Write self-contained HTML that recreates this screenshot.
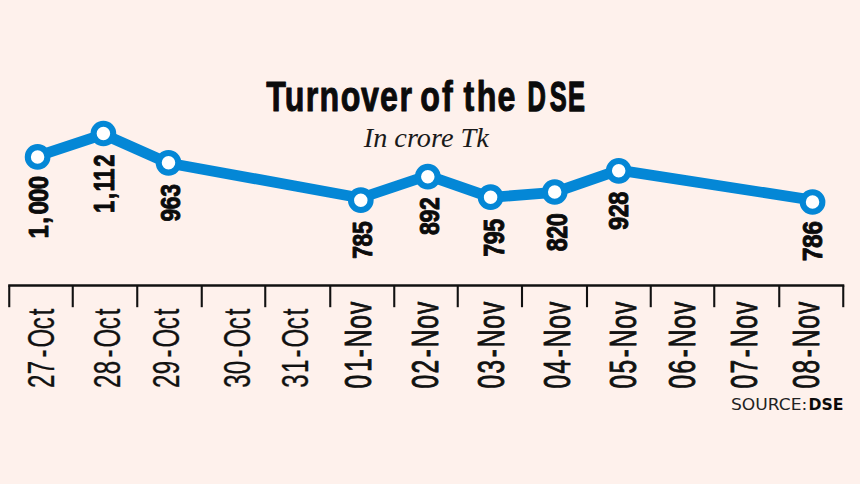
<!DOCTYPE html>
<html lang="en">
<head>
<meta charset="utf-8">
<title>Turnover of the DSE</title>
<style>
html,body{margin:0;padding:0;background:#fef1ec;}
body{width:860px;height:484px;overflow:hidden;}
svg{display:block;}
.sans{font-family:"Liberation Sans",sans-serif;}
.serif{font-family:"Liberation Serif",serif;}
.dv{font-family:"DejaVu Sans","Liberation Sans",sans-serif;}
</style>
</head>
<body>
<svg width="860" height="484" viewBox="0 0 860 484">
<rect x="0" y="0" width="860" height="484" fill="#fef1ec"/>
<g transform="scale(0.755,1)"><text class="sans" x="352.67 377.20 405.07 423.26 451.49 478.03 503.35 529.04 550.99 556.66 585.28 607.28 613.83 631.59 659.04" y="111.05" font-size="42.6" font-weight="bold" fill="#0b0b0b" stroke="#0b0b0b" stroke-width="0.9" vector-effect="non-scaling-stroke" stroke-linejoin="round">Turnover of the</text></g>
<g transform="scale(0.6,1)"><text class="sans" x="879.37 916.11 946.80" y="110.9" font-size="42.3" font-weight="bold" fill="#0b0b0b" stroke="#0b0b0b" stroke-width="1.2" vector-effect="non-scaling-stroke" stroke-linejoin="round">DSE</text></g>
<g transform="translate(363.8,146.6) scale(1.038,1)"><text class="serif" x="0" y="0" font-size="27.2" font-style="italic" fill="#1a1a1a">In crore Tk</text></g>
<polyline fill="none" stroke="#0487d6" stroke-width="10.8" stroke-linejoin="round" stroke-linecap="round" points="37.6,156.1 103.3,134.3 168,163.0 360.8,198.0 427.8,175.5 490.6,197.3 554.5,192.4 618.7,170.2 812.55,200.1"/>
<circle cx="37.6" cy="156.9" r="9.8" fill="#ffffff" stroke="#0487d6" stroke-width="6.1"/>
<circle cx="103.4" cy="133.5" r="9.8" fill="#ffffff" stroke="#0487d6" stroke-width="6.1"/>
<circle cx="168.5" cy="162.8" r="9.8" fill="#ffffff" stroke="#0487d6" stroke-width="6.1"/>
<circle cx="360.8" cy="200.2" r="9.8" fill="#ffffff" stroke="#0487d6" stroke-width="6.1"/>
<circle cx="427.8" cy="176.7" r="9.8" fill="#ffffff" stroke="#0487d6" stroke-width="6.1"/>
<circle cx="490.6" cy="197.2" r="9.8" fill="#ffffff" stroke="#0487d6" stroke-width="6.1"/>
<circle cx="554.7" cy="192.0" r="9.8" fill="#ffffff" stroke="#0487d6" stroke-width="6.1"/>
<circle cx="618.7" cy="170.8" r="9.8" fill="#ffffff" stroke="#0487d6" stroke-width="6.1"/>
<circle cx="812.55" cy="202.0" r="9.8" fill="#ffffff" stroke="#0487d6" stroke-width="6.1"/>
<g transform="translate(47.89,236.20) rotate(-90) scale(0.854,1)"><text class="sans" x="-2.71 14.57 25.44 40.19 55.07" y="0" font-size="28.18" font-weight="bold" stroke="#0b0b0b" stroke-width="0.85" vector-effect="non-scaling-stroke" stroke-linejoin="round" fill="#0b0b0b">1,000</text></g>
<g transform="translate(114.29,212.60) rotate(-90) scale(0.76,1)"><text class="sans" x="-0.60 17.84 27.69 42.03 60.24" y="0" font-size="28.74" font-weight="bold" stroke="#0b0b0b" stroke-width="0.85" vector-effect="non-scaling-stroke" stroke-linejoin="round" fill="#0b0b0b">1,112</text></g>
<g transform="translate(179.60,221.30) rotate(-90) scale(0.822,1)"><text class="sans" x="-0.20 14.72 29.88" y="0" font-size="27.75" font-weight="bold" stroke="#0b0b0b" stroke-width="0.85" vector-effect="non-scaling-stroke" stroke-linejoin="round" fill="#0b0b0b">963</text></g>
<g transform="translate(371.60,258.60) rotate(-90) scale(0.842,1)"><text class="sans" x="-0.22 14.48 29.18" y="0" font-size="27.33" font-weight="bold" stroke="#0b0b0b" stroke-width="0.85" vector-effect="non-scaling-stroke" stroke-linejoin="round" fill="#0b0b0b">785</text></g>
<g transform="translate(438.61,234.80) rotate(-90) scale(0.861,1)"><text class="sans" x="-0.26 14.27 28.79" y="0" font-size="26.91" font-weight="bold" stroke="#0b0b0b" stroke-width="0.85" vector-effect="non-scaling-stroke" stroke-linejoin="round" fill="#0b0b0b">892</text></g>
<g transform="translate(503.58,256.60) rotate(-90) scale(0.794,1)"><text class="sans" x="-0.26 15.59 31.34" y="0" font-size="29.45" font-weight="bold" stroke="#0b0b0b" stroke-width="0.85" vector-effect="non-scaling-stroke" stroke-linejoin="round" fill="#0b0b0b">795</text></g>
<g transform="translate(566.88,251.10) rotate(-90) scale(0.782,1)"><text class="sans" x="-0.29 15.88 31.89" y="0" font-size="29.87" font-weight="bold" stroke="#0b0b0b" stroke-width="0.85" vector-effect="non-scaling-stroke" stroke-linejoin="round" fill="#0b0b0b">820</text></g>
<g transform="translate(627.69,229.90) rotate(-90) scale(0.839,1)"><text class="sans" x="-0.23 14.95 29.99" y="0" font-size="28.18" font-weight="bold" stroke="#0b0b0b" stroke-width="0.85" vector-effect="non-scaling-stroke" stroke-linejoin="round" fill="#0b0b0b">928</text></g>
<g transform="translate(821.79,260.90) rotate(-90) scale(0.867,1)"><text class="sans" x="-0.29 14.91 30.14" y="0" font-size="28.46" font-weight="bold" stroke="#0b0b0b" stroke-width="0.85" vector-effect="non-scaling-stroke" stroke-linejoin="round" fill="#0b0b0b">786</text></g>
<g stroke="#111111" stroke-width="2.1" fill="none" stroke-linecap="butt">
<line x1="8.2" y1="285.5" x2="844.3" y2="285.5" stroke-width="2.4"/>
<line x1="9.25" y1="285.5" x2="9.25" y2="307.2"/>
<line x1="72.75" y1="285.5" x2="72.75" y2="307.2"/>
<line x1="137.25" y1="285.5" x2="137.25" y2="307.2"/>
<line x1="201.75" y1="285.5" x2="201.75" y2="307.2"/>
<line x1="265.25" y1="285.5" x2="265.25" y2="307.2"/>
<line x1="330.25" y1="285.5" x2="330.25" y2="307.2"/>
<line x1="394.25" y1="285.5" x2="394.25" y2="307.2"/>
<line x1="457.75" y1="285.5" x2="457.75" y2="307.2"/>
<line x1="522" y1="285.5" x2="522" y2="307.2"/>
<line x1="587" y1="285.5" x2="587" y2="307.2"/>
<line x1="650.75" y1="285.5" x2="650.75" y2="307.2"/>
<line x1="714.25" y1="285.5" x2="714.25" y2="307.2"/>
<line x1="779.25" y1="285.5" x2="779.25" y2="307.2"/>
<line x1="843.25" y1="285.5" x2="843.25" y2="307.2"/>
</g>
<g transform="translate(53.60,387.00) rotate(-90) scale(0.66,1)"><text class="sans" x="-1.33 19.41 44.70 59.94 87.58 108.89" y="0" font-size="36.4" stroke="#111111" stroke-width="0.3" vector-effect="non-scaling-stroke" stroke-linejoin="round" fill="#111111">27-Oct</text></g>
<g transform="translate(119.50,387.00) rotate(-90) scale(0.66,1)"><text class="sans" x="-1.33 19.42 44.70 59.94 87.58 108.89" y="0" font-size="36.4" stroke="#111111" stroke-width="0.3" vector-effect="non-scaling-stroke" stroke-linejoin="round" fill="#111111">28-Oct</text></g>
<g transform="translate(178.75,387.00) rotate(-90) scale(0.66,1)"><text class="sans" x="-1.33 19.43 44.70 59.94 87.58 108.89" y="0" font-size="36.4" stroke="#111111" stroke-width="0.3" vector-effect="non-scaling-stroke" stroke-linejoin="round" fill="#111111">29-Oct</text></g>
<g transform="translate(249.80,387.00) rotate(-90) scale(0.66,1)"><text class="sans" x="-1.23 19.42 44.70 59.94 87.58 108.89" y="0" font-size="36.4" stroke="#111111" stroke-width="0.3" vector-effect="non-scaling-stroke" stroke-linejoin="round" fill="#111111">30-Oct</text></g>
<g transform="translate(308.00,387.00) rotate(-90) scale(0.66,1)"><text class="sans" x="-1.23 21.20 44.70 59.94 87.58 108.89" y="0" font-size="36.4" stroke="#111111" stroke-width="0.3" vector-effect="non-scaling-stroke" stroke-linejoin="round" fill="#111111">31-Oct</text></g>
<g transform="translate(371.00,387.00) rotate(-90) scale(0.675,1)"><text class="sans" x="-2.36 22.48 44.05 59.07 86.23 108.14" y="0" font-size="36.2" stroke="#111111" stroke-width="0.8" vector-effect="non-scaling-stroke" stroke-linejoin="round" fill="#111111">01-Nov</text></g>
<g transform="translate(437.80,387.00) rotate(-90) scale(0.675,1)"><text class="sans" x="-2.36 20.01 44.05 59.07 86.23 108.14" y="0" font-size="36.2" stroke="#111111" stroke-width="0.8" vector-effect="non-scaling-stroke" stroke-linejoin="round" fill="#111111">02-Nov</text></g>
<g transform="translate(503.60,387.00) rotate(-90) scale(0.675,1)"><text class="sans" x="-2.36 20.11 44.05 59.07 86.23 108.14" y="0" font-size="36.2" stroke="#111111" stroke-width="0.8" vector-effect="non-scaling-stroke" stroke-linejoin="round" fill="#111111">03-Nov</text></g>
<g transform="translate(570.00,387.00) rotate(-90) scale(0.675,1)"><text class="sans" x="-2.36 20.12 44.05 59.07 86.23 108.14" y="0" font-size="36.2" stroke="#111111" stroke-width="0.8" vector-effect="non-scaling-stroke" stroke-linejoin="round" fill="#111111">04-Nov</text></g>
<g transform="translate(636.00,387.00) rotate(-90) scale(0.675,1)"><text class="sans" x="-2.36 20.04 44.05 59.07 86.23 108.14" y="0" font-size="36.2" stroke="#111111" stroke-width="0.8" vector-effect="non-scaling-stroke" stroke-linejoin="round" fill="#111111">05-Nov</text></g>
<g transform="translate(694.50,387.00) rotate(-90) scale(0.675,1)"><text class="sans" x="-2.36 19.88 44.05 59.07 86.23 108.14" y="0" font-size="36.2" stroke="#111111" stroke-width="0.8" vector-effect="non-scaling-stroke" stroke-linejoin="round" fill="#111111">06-Nov</text></g>
<g transform="translate(757.00,387.00) rotate(-90) scale(0.675,1)"><text class="sans" x="-2.36 19.99 44.05 59.07 86.23 108.14" y="0" font-size="36.2" stroke="#111111" stroke-width="0.8" vector-effect="non-scaling-stroke" stroke-linejoin="round" fill="#111111">07-Nov</text></g>
<g transform="translate(819.20,387.00) rotate(-90) scale(0.675,1)"><text class="sans" x="-2.36 20.01 44.05 59.07 86.23 108.14" y="0" font-size="36.2" stroke="#111111" stroke-width="0.8" vector-effect="non-scaling-stroke" stroke-linejoin="round" fill="#111111">08-Nov</text></g>
<text class="dv" y="409.8" font-size="15.8" fill="#222222"><tspan x="731" textLength="76.3" lengthAdjust="spacingAndGlyphs">SOURCE:</tspan><tspan x="808.5" font-weight="bold" fill="#0b0b0b" textLength="35" lengthAdjust="spacingAndGlyphs">DSE</tspan></text>
</svg>
</body>
</html>
